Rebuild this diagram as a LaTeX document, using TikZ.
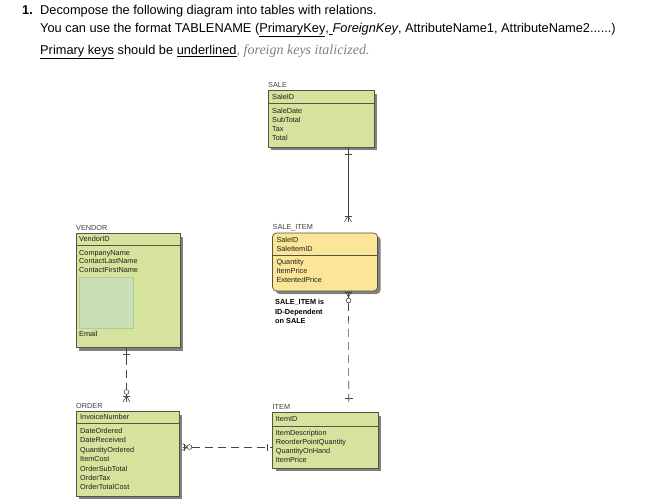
\documentclass[tikz,border=0pt]{standalone}
\usepackage{fontspec}
\setmainfont{Liberation Sans}
\newfontfamily\greyserif{Liberation Serif}
\usetikzlibrary{shadows}
\definecolor{entgreen}{RGB}{214,227,156}
\definecolor{entyellow}{RGB}{250,230,150}
\definecolor{entborder}{RGB}{85,85,70}
\definecolor{innergreen}{RGB}{201,224,183}
\definecolor{innerborder}{RGB}{170,205,160}
\definecolor{greytext}{RGB}{128,128,128}
\definecolor{fieldtext}{RGB}{30,30,30}
\definecolor{conncol}{RGB}{70,70,70}
\tikzset{
  hdr/.style={anchor=base west, inner sep=0pt, font=\fontsize{12.8}{14}\selectfont},
  fld/.style={anchor=base west, inner sep=0pt, font=\fontsize{7.3}{8}\selectfont, text=fieldtext},
  ttl/.style={anchor=base west, inner sep=0pt, font=\fontsize{7.3}{8}\selectfont, text=black!75},
  note/.style={anchor=base west, inner sep=0pt, font=\fontsize{7.3}{8}\selectfont\bfseries},
  entbox/.style 2 args={draw=entborder, line width=0.7pt, fill=entgreen, anchor=north west,
    inner sep=0pt, outer sep=0pt, minimum width=#1, minimum height=#2,
    drop shadow={shadow xshift=3pt, shadow yshift=-3pt, fill=black!50, opacity=1}},
  sepline/.style={draw=entborder, line width=0.7pt},
  conn/.style={draw=conncol, line width=0.6pt},
  dconn/.style={draw=conncol, line width=0.6pt, dash pattern=on 8pt off 5pt},
}
\begin{document}
\begin{tikzpicture}[x=1pt,y=-1pt]
\useasboundingbox[fill=white] (0,0) rectangle (645,501);

% header
\node[hdr] (num) at (22,14.5) {\textbf{1.}};
\node[hdr] (l1) at (40,14.5) {Decompose the following diagram into tables with relations.};
\node[hdr] (l2) at (40,32.5) {You can use the format TABLENAME (\underline{PrimaryKey},\underline{\ }\textit{ForeignKey}, AttributeName1, AttributeName2......)};
\node[hdr] (l3) at (40,54.5) {\underline{Primary keys} should be \underline{underlined}{\color{greytext},} {\greyserif\fontsize{14}{15}\selectfont\itshape\color{greytext}foreign keys italicized.}};

% entity boxes
\node[entbox={106pt}{56.5pt}] (sale) at (268,90.5) {};
\node[entbox={105pt}{58pt}, fill=entyellow, rounded corners=4pt] (saleitem) at (272.5,233) {};
\node[entbox={104pt}{114pt}] (vendor) at (76,233.5) {};
\node[entbox={103pt}{84.5pt}] (order) at (76,411.5) {};
\node[entbox={105.5pt}{55.5pt}] (item) at (272.5,412.5) {};

% separators
\draw[sepline] (sale.west |- 0,103.5) -- (sale.east |- 0,103.5);
\draw[sepline] (saleitem.west |- 0,255) -- (saleitem.east |- 0,255);
\draw[sepline] (vendor.west |- 0,245) -- (vendor.east |- 0,245);
\draw[sepline] (order.west |- 0,423.5) -- (order.east |- 0,423.5);
\draw[sepline] (item.west |- 0,426) -- (item.east |- 0,426);

% inner picture area in VENDOR
\node[draw=innerborder, fill=innergreen, line width=0.5pt, anchor=north west, inner sep=0pt,
  minimum width=54pt, minimum height=51pt] (vpic) at (79,277) {};

% titles
\node[ttl] (tsale) at (268,87.5) {SALE};
\node[ttl] (tsaleitem) at (272.5,229.3) {SALE\_ITEM};
\node[ttl] (tvendor) at (76,230) {VENDOR};
\node[ttl] (torder) at (76,408.3) {ORDER};
\node[ttl] (titem) at (272.5,409.3) {ITEM};

% SALE fields
\node[fld] (s1) at (272,99.3) {SaleID};
\node[fld] (s2) at (272,113.3) {SaleDate};
\node[fld] (s3) at (272,122) {SubTotal};
\node[fld] (s4) at (272,131) {Tax};
\node[fld] (s5) at (272,140.3) {Total};

% SALE_ITEM fields
\node[fld] (si1) at (276.3,242.6) {SaleID};
\node[fld] (si2) at (276.3,251) {SaleItemID};
\node[fld] (si3) at (276.3,264.3) {Quantity};
\node[fld] (si4) at (276.3,273.6) {ItemPrice};
\node[fld] (si5) at (276.3,282.6) {ExtentedPrice};

% VENDOR fields
\node[fld] (v1) at (79,241.6) {VendorID};
\node[fld] (v2) at (79,255.3) {CompanyName};
\node[fld] (v3) at (79,263.3) {ContactLastName};
\node[fld] (v4) at (79,272) {ContactFirstName};
\node[fld] (v5) at (79,336.6) {Email};

% ORDER fields
\node[fld] (o1) at (80,419.3) {InvoiceNumber};
\node[fld] (o2) at (80,433.6) {DateOrdered};
\node[fld] (o3) at (80,442.6) {DateReceived};
\node[fld] (o4) at (80,452) {QuantityOrdered};
\node[fld] (o5) at (80,461.6) {ItemCost};
\node[fld] (o6) at (80,471) {OrderSubTotal};
\node[fld] (o7) at (80,480) {OrderTax};
\node[fld] (o8) at (80,489.3) {OrderTotalCost};

% ITEM fields
\node[fld] (i1) at (275.7,421.6) {ItemID};
\node[fld] (i2) at (275.7,435.3) {ItemDescription};
\node[fld] (i3) at (275.7,444.3) {ReorderPointQuantity};
\node[fld] (i4) at (275.7,453.3) {QuantityOnHand};
\node[fld] (i5) at (275.7,462.6) {ItemPrice};

% note
\node[note] (n1) at (275,304.5) {SALE\_ITEM is};
\node[note] (n2) at (275,314) {ID-Dependent};
\node[note] (n3) at (275,323) {on SALE};

% connector SALE -- SALE_ITEM (solid)
\coordinate (c1s) at ([xshift=27pt]sale.south);
\coordinate (c1e) at ([xshift=23pt,yshift=11pt]saleitem.north);
\draw[conn] (c1s) -- (c1e);
\draw[conn] (c1s) ++(-3.5,7) -- ++(7,0);
\draw[conn] (c1e) ++(-3.5,0) -- ++(3.5,-6) -- ++(3.5,6);
\draw[conn] (c1e) ++(-3.5,-6) -- ++(7,0);

% connector SALE_ITEM -- ITEM (dashed)
\coordinate (c2s) at ([xshift=23.5pt]saleitem.south);
\coordinate (c2e) at ([xshift=23.5pt,yshift=11pt]item.north);
\coordinate (c2o) at ([yshift=-9.5pt]c2s);
\draw[conn] (c2s) -- ([yshift=-7pt]c2s);
\draw[conn] (c2s) ++(-3.5,0) -- ++(3.5,6) -- ++(3.5,-6);
\draw[conn] (c2s) ++(-3.5,1.5) -- ++(7,0);
\draw[conn, fill=white] (c2o) circle[radius=2.4pt];
\draw[dconn] ([yshift=-2.4pt]c2o) -- (c2e);
\draw[conn] (c2e) ++(-4,-3.5) -- ++(8,0);

% connector VENDOR -- ORDER (dashed)
\coordinate (c3s) at ([xshift=-1.5pt]vendor.south);
\coordinate (c3e) at ([xshift=-1pt,yshift=9.5pt]order.north);
\coordinate (c3o) at ([yshift=10pt]c3e);
\draw[conn] (c3s) -- ([yshift=-9pt]c3s);
\draw[conn] (c3s) ++(-3.5,6.5) -- ++(7,0);
\draw[dconn] ([yshift=-9pt]c3s) -- ([yshift=2.4pt]c3o);
\draw[conn, fill=white] (c3o) circle[radius=2.4pt];
\draw[conn] ([yshift=-2.4pt]c3o) -- (c3e);
\draw[conn] (c3e) ++(-3.5,0) -- ++(3.5,-6) -- ++(3.5,6);
\draw[conn] (c3e) ++(-3.5,-5.5) -- ++(7,0);

% connector ORDER -- ITEM (dashed)
\coordinate (c4s) at ([xshift=3.5pt,yshift=6.75pt]order.east);
\coordinate (c4e) at ([yshift=-6.75pt]item.west);
\coordinate (c4o) at ([xshift=7pt]c4s);
\draw[conn] (c4s) ++(0,-3.5) -- ++(5,3.5) -- ++(-5,3.5);
\draw[conn] (c4s) -- ([xshift=-2.4pt]c4o);
\draw[conn] (c4s) ++(1.5,-3.5) -- ++(0,7);
\draw[conn, fill=white] (c4o) circle[radius=2.4pt];
\draw[dconn] ([xshift=2.4pt]c4o) -- (c4e);
\draw[conn] (c4e) ++(-5.5,-3.5) -- ++(0,7);
\end{tikzpicture}
\end{document}
